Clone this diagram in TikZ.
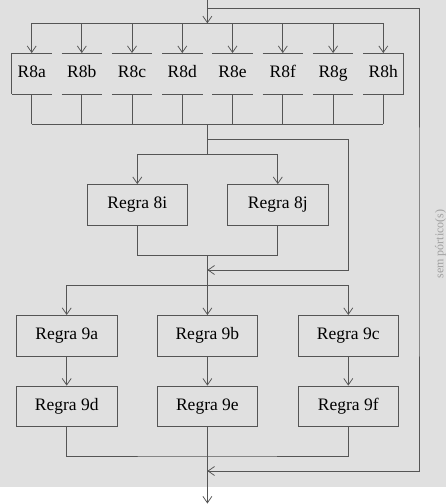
\documentclass[tikz,border=0pt]{standalone}
\usepackage{fontspec}
\setmainfont{Liberation Serif}
\usetikzlibrary{arrows.meta}
\definecolor{panel}{HTML}{E0E0E0}
\definecolor{wire}{HTML}{555555}
\definecolor{note}{HTML}{A0A0A0}
\tikzset{
  wirestyle/.style={draw=wire, line width=0.75pt},
  arr/.style={wirestyle, -{Straight Barb[length=6.5pt,width=9pt,line width=0.75pt]}},
  rulebox/.style={draw=wire, line width=0.9pt, fill=panel, inner sep=0pt,
    minimum width=100.5pt, minimum height=40.5pt,
    font=\fontsize{17.5}{19}\selectfont},
  slot/.style={inner sep=0pt, minimum width=40pt, minimum height=40.7pt,
    text height=12pt, text depth=3.8pt,
    font=\fontsize{17.5}{19}\selectfont},
  slotedge/.style={draw=wire, line width=0.9pt},
}
\begin{document}
\begin{tikzpicture}[x=1pt, y=-1pt]
  \useasboundingbox (0,0) rectangle (446,504);
  \fill[panel] (0,0) rectangle (446,486.5);

  % junction points on the main axis
  \coordinate (in)     at (207.4,0);
  \coordinate (split0) at (207.4,8);
  \coordinate (bus1)   at (207.4,23.3);
  \coordinate (bus2)   at (207.4,124);
  \coordinate (split1) at (207.4,139.3);
  \coordinate (bus3)   at (207.4,154.3);
  \coordinate (join8)  at (207.4,255.3);
  \coordinate (merge1) at (207.4,270);
  \coordinate (bus4)   at (207.4,285);
  \coordinate (join9)  at (207.4,456);
  \coordinate (merge2) at (207.4,471);
  \coordinate (out)    at (207.4,503.5);
  \coordinate (rail1)  at (348.3,200);
  \coordinate (rail0)  at (419,244);

  % row of rules 8a..8h
  \node[slot] (r8a) at (31.7,73.6)  {R8a};
  \node[slot] (r8b) at (81.8,73.6)  {R8b};
  \node[slot] (r8c) at (132.0,73.6) {R8c};
  \node[slot] (r8d) at (182.3,73.6) {R8d};
  \node[slot] (r8e) at (232.5,73.6) {R8e};
  \node[slot] (r8f) at (282.8,73.6) {R8f};
  \node[slot] (r8g) at (333.1,73.6) {R8g};
  \node[slot] (r8h) at (383.3,73.6) {R8h};
  \foreach \n in {r8a,r8b,r8c,r8d,r8e,r8f,r8g,r8h}{
    \draw[slotedge] (\n.north west) -- (\n.north east);
    \draw[slotedge] (\n.south west) -- (\n.south east);
  }
  \draw[slotedge] (r8a.north west) -- (r8a.south west);
  \draw[slotedge] (r8h.north east) -- (r8h.south east);

  % rules 8i, 8j
  \node[rulebox] (r8i) at (137.3,204.8) {Regra 8i};
  \node[rulebox] (r8j) at (277.8,204.8) {Regra 8j};

  % rules 9a..9f
  \node[rulebox] (r9a) at (66.7,335.7)  {Regra 9a};
  \node[rulebox] (r9b) at (207.4,335.7) {Regra 9b};
  \node[rulebox] (r9c) at (348.3,335.7) {Regra 9c};
  \node[rulebox] (r9d) at (66.7,406.3)  {Regra 9d};
  \node[rulebox] (r9e) at (207.4,406.3) {Regra 9e};
  \node[rulebox] (r9f) at (348.3,406.3) {Regra 9f};

  % fan-out to the 8a..8h row
  \draw[arr] (in) -- (bus1);
  \draw[wirestyle] (r8a.north |- bus1) -- (r8h.north |- bus1);
  \foreach \n in {r8a,r8b,r8c,r8d,r8e,r8f,r8g,r8h}{
    \draw[arr] (\n.north |- bus1) -- (\n.north);
    \draw[wirestyle] (\n.south) -- (\n.south |- bus2);
  }
  \draw[wirestyle] (r8a.south |- bus2) -- (r8h.south |- bus2);

  % branch into 8i / 8j
  \draw[wirestyle] (bus2) -- (bus3);
  \draw[wirestyle] (r8i.north |- bus3) -- (r8j.north |- bus3);
  \draw[arr] (r8i.north |- bus3) -- (r8i.north);
  \draw[arr] (r8j.north |- bus3) -- (r8j.north);
  \draw[wirestyle] (r8i.south) |- (join8) -| (r8j.south);
  \draw[arr] (split1) -| (rail1) |- (merge1);

  % branch into the 9 column pairs
  \draw[wirestyle] (join8) -- (bus4);
  \draw[wirestyle] (r9a.north |- bus4) -- (r9c.north |- bus4);
  \draw[arr] (r9a.north |- bus4) -- (r9a.north);
  \draw[arr] (bus4) -- (r9b.north);
  \draw[arr] (r9c.north |- bus4) -- (r9c.north);
  \draw[arr] (r9a) -- (r9d);
  \draw[arr] (r9b) -- (r9e);
  \draw[arr] (r9c) -- (r9f);
  \draw[wirestyle] (r9d.south) |- (join9) -| (r9f.south);
  \draw[arr] (r9e.south) -- (out);

  % bypass when there is no portico
  \draw[arr] (split0) -| (rail0) |- (merge2);
  \node[rotate=90, text=note, font=\fontsize{12}{14}\selectfont, inner sep=0pt]
    (bypass) at (440.5,244) {sem pórtico(s)};
\end{tikzpicture}
\end{document}
